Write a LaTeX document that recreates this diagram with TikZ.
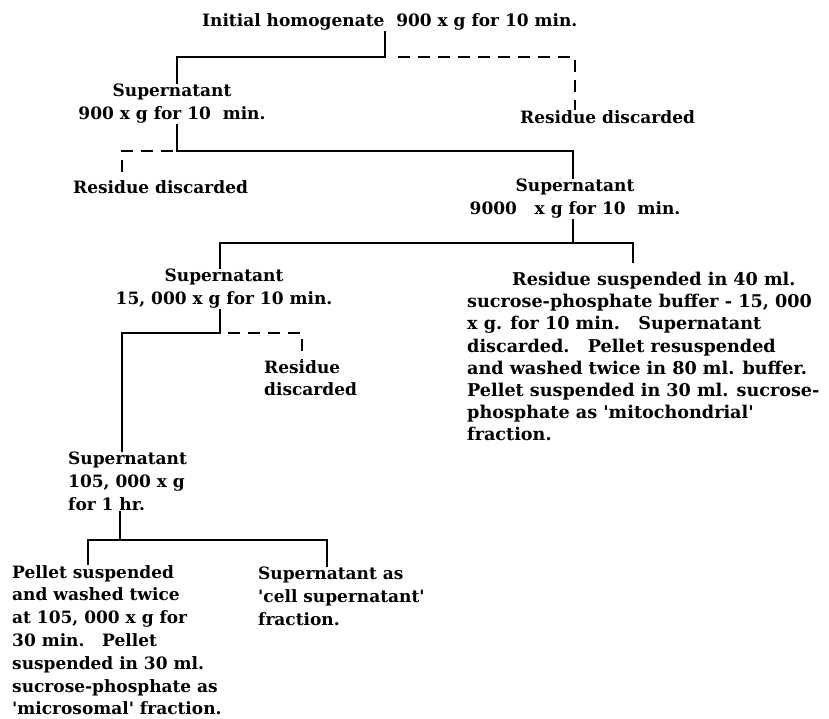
\documentclass[tikz,border=0pt]{standalone}
\usepackage{fontspec}
\setmainfont{DejaVu Serif}
\usetikzlibrary{positioning}

\begin{document}
\begin{tikzpicture}[
  x=1pt, y=-1pt,
  font=\fontsize{17}{22.8}\selectfont\bfseries,
  txt/.style={inner sep=0pt, anchor=west},
  stage/.style={inner sep=0pt, anchor=north, align=center},
  blk/.style={inner sep=0pt, anchor=north west, align=left},
  link/.style={line width=2.6pt},
  gone/.style={line width=2.6pt, dash pattern=on 12pt off 8pt},
]
\useasboundingbox (0,0) rectangle (829,719);

% ---------------------------------------------------------------
% stages
% ---------------------------------------------------------------
\node[txt] (init) at (202,22) {Initial homogenate\ \ 900 x g for 10 min.};
\node[stage] (sup1) at (172,84) {Supernatant\\900 x g for 10\ \ min.};
\node[txt] (res1) at (520,117) {Residue discarded};
\node[txt] (res2) at (73,187) {Residue discarded};
\node[stage] (sup2) at (575,179) {Supernatant\\9000\ \ \ x g for 10\ \ min.};
\node[stage] (sup3) at (224,269) {Supernatant\\15, 000 x g for 10 min.};
\node[blk] (res3) at (264,360) {Residue\\discarded};
\node[blk, font=\fontsize{17.6}{22.2}\selectfont\bfseries] (mito) at (467,272)
  {\hspace*{45pt}Residue suspended in 40 ml.\\
   sucrose-phosphate buffer - 15, 000\\
   x g. for 10 min.\ \ \ Supernatant\\
   discarded.\ \ \ Pellet resuspended\\
   and washed twice in 80 ml. buffer.\\
   Pellet suspended in 30 ml. sucrose-\\
   phosphate as \textquotesingle mitochondrial\textquotesingle\\
   fraction.};
\node[blk] (sup4) at (68,452) {Supernatant\\105, 000 x g\\for 1 hr.};
\node[blk] (micro) at (12,565)
  {Pellet suspended\\
   and washed twice\\
   at 105, 000 x g for\\
   30 min.\ \ \ Pellet\\
   suspended in 30 ml.\\
   sucrose-phosphate as\\
   \textquotesingle microsomal\textquotesingle\ fraction.};
\node[blk] (cyto) at (258,567)
  {Supernatant as\\
   \textquotesingle cell supernatant\textquotesingle\\
   fraction.};

% ---------------------------------------------------------------
% forks and drop points
% ---------------------------------------------------------------
\coordinate (k1) at (385,57);
\coordinate (k2) at (177,151);
\coordinate (k3) at (573,243);
\coordinate (k4) at (220,333);
\coordinate (k5) at (120,540);
\coordinate (x1) at (575,0);
\coordinate (x2) at (122,0);
\coordinate (x3) at (633,0);
\coordinate (x4) at (302,0);
\coordinate (x5) at (88,0);
\coordinate (x6) at (327,0);

\draw[link] (init.south -| k1) -- (k1) -| (sup1.north -| k2);
\draw[gone] ([xshift=13pt]k1) -| (res1.north -| x1);
\draw[link] (sup1.south -| k2) -- (k2) -| (sup2.north -| k3);
\draw[gone] ([xshift=-4pt]k2) -| (res2.north -| x2);
\draw[link] (sup2.south -| k3) -- (k3) -| (sup3.north -| k4);
\draw[link] (k3) -| ([yshift=9pt]mito.north -| x3);
\draw[link] (sup3.south -| k4) -- (k4) -| (sup4.north -| x2);
\draw[gone] ([xshift=8pt]k4) -| (res3.north -| x4);
\draw[link] (sup4.south -| k5) -- (k5) -| (micro.north -| x5);
\draw[link] (k5) -| (cyto.north -| x6);

\end{tikzpicture}
\end{document}
